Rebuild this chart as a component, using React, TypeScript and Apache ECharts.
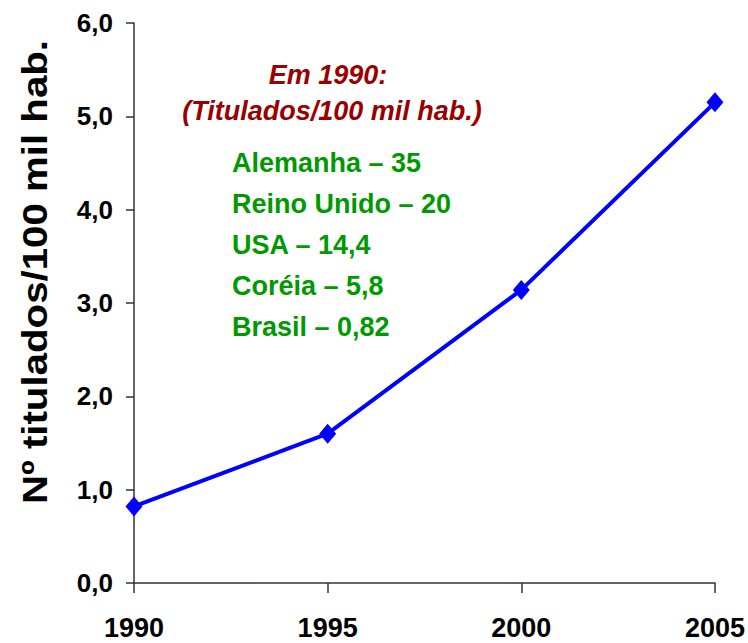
import React, { useEffect, useRef } from "react";
import * as echarts from "echarts";

const years = ["1990", "1995", "2000", "2005"];
const titledPer100k = [0.82, 1.6, 3.14, 5.15];
const yTickLabels = ["0,0", "1,0", "2,0", "3,0", "4,0", "5,0", "6,0"];
const yAxisTitle = "Nº titulados/100 mil hab.";
const noteTitle = ["Em 1990:", "(Titulados/100 mil hab.)"];
const noteCountries = ["Alemanha", "Reino Unido", "USA", "Coréia", "Brasil"];
const noteValues = ["35", "20", "14,4", "5,8", "0,82"];

const FONT = "'Liberation Sans', Arial, Helvetica, sans-serif";

export default function App() {
  const ref = useRef<HTMLDivElement>(null);
  useEffect(() => {
    document.body.style.margin = "0";
    const chart = echarts.init(ref.current!, null, { renderer: "svg" });
    const green = noteCountries.map((c, i) => ({
      type: "text",
      x: 232,
      y: 163 + i * 41,
      style: {
        text: `${c} – ${noteValues[i]}`,
        fill: "#009900",
        font: `bold 27px ${FONT}`,
        textAlign: "left",
        textVerticalAlign: "middle",
      },
    }));
    chart.setOption({
      animation: false,
      backgroundColor: "#ffffff",
      grid: { left: 134, right: 32, top: 23, bottom: 60, containLabel: false },
      xAxis: {
        type: "category",
        data: years,
        boundaryGap: false,
        axisLine: { show: true, lineStyle: { color: "#333333", width: 1.5 } },
        axisTick: { show: true, alignWithLabel: true, length: 10, lineStyle: { color: "#333333", width: 1.5 } },
        axisLabel: {
          color: "#000000",
          fontFamily: FONT,
          fontWeight: "bold",
          fontSize: 27,
          margin: 31,
        },
        splitLine: { show: false },
      },
      yAxis: {
        type: "value",
        min: 0,
        max: 6,
        interval: 1,
        axisLine: { show: true, lineStyle: { color: "#333333", width: 1.5 } },
        axisTick: { show: true, length: 8, lineStyle: { color: "#333333", width: 1.5 } },
        axisLabel: {
          color: "#000000",
          fontFamily: FONT,
          fontWeight: "bold",
          fontSize: 26,
          margin: 21,
          formatter: (_v: number, i: number) => yTickLabels[i],
        },
        splitLine: { show: false },
      },
      graphic: [
        {
          type: "text",
          x: 35,
          y: 272,
          rotation: Math.PI / 2,
          scaleX: 1.15,
          style: {
            text: yAxisTitle,
            fill: "#000000",
            font: `bold 35px ${FONT}`,
            textAlign: "center",
            textVerticalAlign: "middle",
          },
        },
        {
          type: "text",
          x: 328,
          y: 75,
          style: {
            text: noteTitle[0],
            fill: "#990000",
            font: `italic bold 27px ${FONT}`,
            textAlign: "center",
            textVerticalAlign: "middle",
          },
        },
        {
          type: "text",
          x: 332,
          y: 111,
          style: {
            text: noteTitle[1],
            fill: "#990000",
            font: `italic bold 27px ${FONT}`,
            textAlign: "center",
            textVerticalAlign: "middle",
          },
        },
        ...green,
      ],
      series: [
        {
          type: "line",
          data: titledPer100k,
          symbol: "diamond",
          symbolSize: [17, 20],
          lineStyle: { color: "#0000ff", width: 4 },
          itemStyle: { color: "#0000ff" },
          label: { show: false },
        },
      ],
    });
    return () => chart.dispose();
  }, []);
  return (
    <div
      ref={ref}
      style={{ position: "absolute", left: 0, top: 0, width: 748, height: 643 }}
    />
  );
}
